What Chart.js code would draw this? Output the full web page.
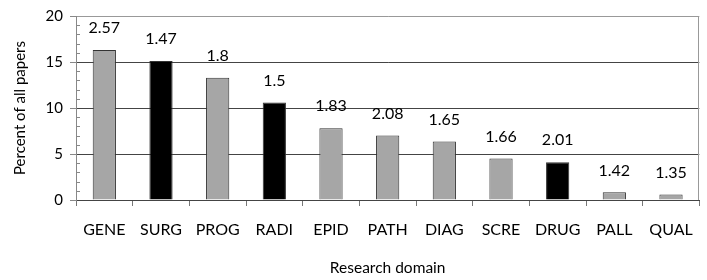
<!DOCTYPE html>
<html>
<head>
<meta charset="utf-8">
<script src="https://cdn.jsdelivr.net/npm/chart.js@4/dist/chart.umd.min.js"></script>
<style>
  body { margin: 0; background: #fff; }
</style>
</head>
<body>
<canvas id="domainChart" width="707" height="280"></canvas>
<script>
let domains = ['GENE', 'SURG', 'PROG', 'RADI', 'EPID', 'PATH', 'DIAG', 'SCRE', 'DRUG', 'PALL', 'QUAL'];
let percents = [16.3, 15.1, 13.3, 10.6, 7.8, 7.0, 6.35, 4.5, 4.1, 0.83, 0.6];
let ratios = ['2.57', '1.47', '1.8', '1.5', '1.83', '2.08', '1.65', '1.66', '2.01', '1.42', '1.35'];
let highlighted = ['SURG', 'RADI', 'DRUG'];

let font = 'Lato';

// numbers over the bars
let ratioLabels = {
    id : 'ratioLabels',
    afterDatasetsDraw(chart){
        let ctx = chart.ctx;
        let meta = chart.getDatasetMeta(0);
        ctx.save();
        ctx.font = '16px ' + font;
        ctx.fillStyle = '#000';
        ctx.textAlign = 'center';
        ctx.textBaseline = 'middle';
        meta.data.forEach((bar, i) => {
            ctx.fillText(ratios[i], bar.x, bar.y - 22);
        });
        ctx.restore();
    }
}

// small ticks every 1 unit on the y axis, plus right border
let minorTicks = {
    id : 'minorTicks',
    afterDraw(chart){
        let ctx = chart.ctx;
        let y = chart.scales.y;
        let area = chart.chartArea;
        ctx.save();
        ctx.strokeStyle = '#888';
        ctx.lineWidth = 1;
        ctx.beginPath();
        for (let v = 0; v <= 20; v++) {
            if (v % 5 === 0) continue;
            let py = Math.round(y.getPixelForValue(v)) + 0.5;
            ctx.moveTo(area.left, py);
            ctx.lineTo(area.left + 4, py);
        }
        ctx.stroke();
        ctx.strokeStyle = '#999';
        ctx.beginPath();
        ctx.moveTo(Math.round(area.right) - 0.5, area.top);
        ctx.lineTo(Math.round(area.right) - 0.5, area.bottom);
        ctx.stroke();
        ctx.restore();
    }
}

let config = {
    type : 'bar',
    data : {
        labels : domains,
        datasets : [{
            data : percents,
            backgroundColor : domains.map(d => highlighted.includes(d) ? '#000000' : '#a6a6a6'),
            borderColor : '#333333',
            borderWidth : 1,
            categoryPercentage : 1,
            barPercentage : 0.41
        }]
    },
    options : {
        responsive : false,
        animation : false,
        layout : { padding : { top : 15, right : 7, left : 0, bottom : 0 } },
        plugins : {
            legend : { display : false },
            tooltip : { enabled : false }
        },
        scales : {
            x : {
                afterFit : (s) => { s.height = 80; },
                grid : {
                    offset : true,
                    drawOnChartArea : false,
                    tickLength : 6,
                    tickColor : '#777'
                },
                border : { color : '#444', width : 1 },
                ticks : {
                    color : '#000',
                    padding : 14,
                    maxRotation : 0,
                    font : { family : font, size : 16 }
                },
                title : {
                    display : true,
                    text : 'Research domain',
                    color : '#000',
                    padding : { top : 0, bottom : 3 },
                    font : { family : font, size : 15.5 }
                }
            },
            y : {
                min : 0,
                max : 20,
                afterFit : (s) => { s.width = 76; },
                ticks : {
                    stepSize : 5,
                    color : '#000',
                    padding : 7,
                    font : { family : font, size : 15 }
                },
                grid : {
                    tickLength : 6,
                    tickColor : '#888',
                    color : (c) => {
                        if (c.tick.value === 20) return '#999';
                        if (c.tick.value === 0) return 'rgba(0,0,0,0)';
                        return '#444';
                    }
                },
                border : { color : '#888', width : 1 },
                title : {
                    display : true,
                    text : 'Percent of all papers',
                    color : '#000',
                    padding : { top : 11, bottom : 0 },
                    font : { family : font, size : 15 }
                }
            }
        }
    },
    plugins : [ratioLabels, minorTicks]
}

let chart = new Chart(document.getElementById('domainChart'), config);
</script>
</body>
</html>
